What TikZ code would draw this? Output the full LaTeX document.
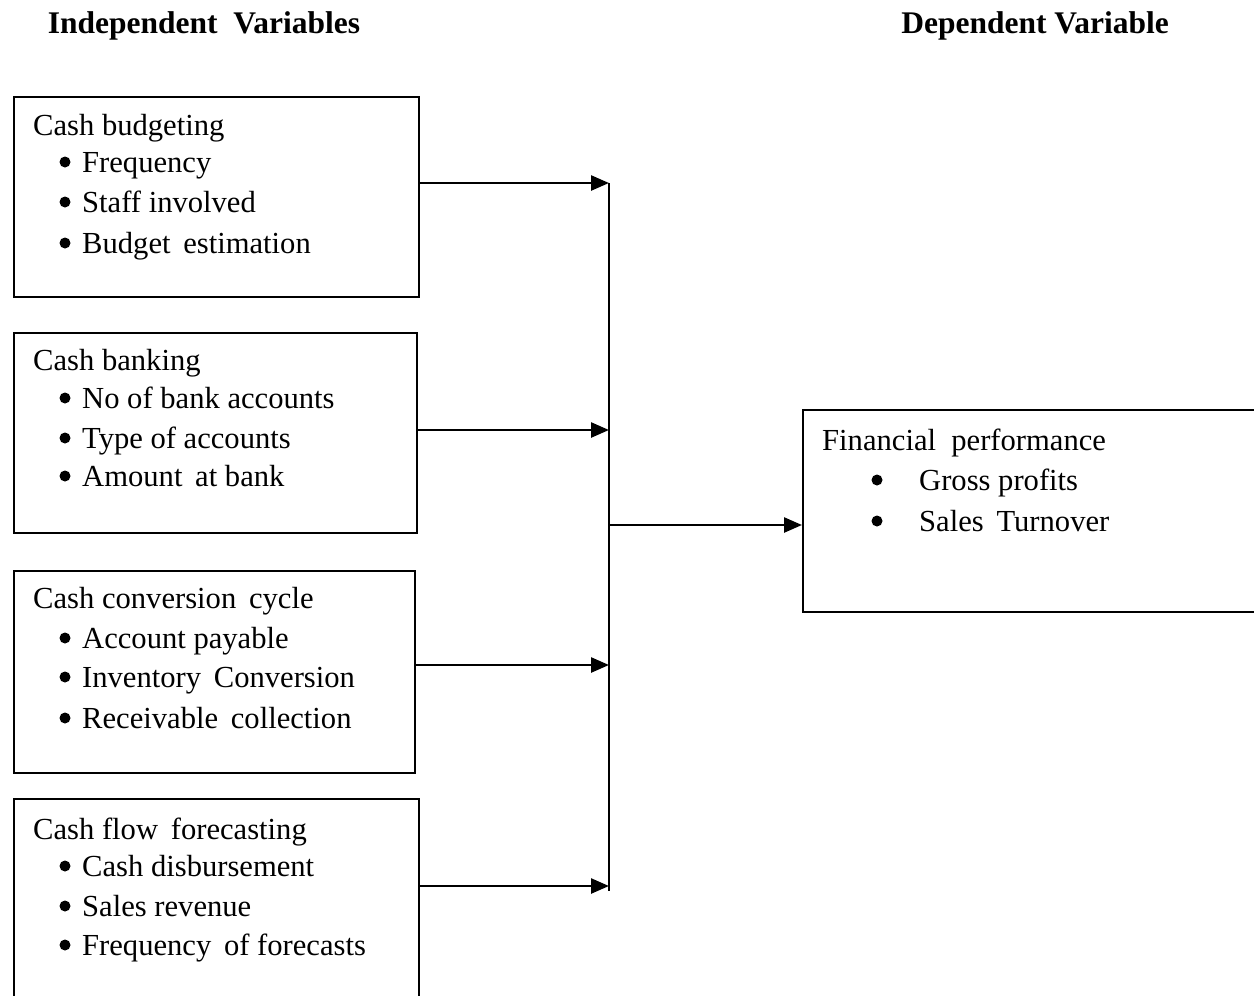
\documentclass[tikz,border=0pt]{standalone}
\usepackage{fontspec}
\setmainfont{Liberation Serif}
\usetikzlibrary{arrows.meta}
\begin{document}
\begin{tikzpicture}[x=1pt,y=-1pt,
  box/.style={draw, line width=2pt, anchor=north west, inner sep=0pt},
  txt/.style={anchor=base west, inner sep=0pt, font=\fontsize{30.6}{36}\selectfont},
  dot/.style={circle, fill, inner sep=0pt, minimum size=11pt},
  head/.style={anchor=base, inner sep=0pt, font=\fontsize{31.5}{36}\selectfont\bfseries},
  arr/.style={line width=2.5pt, -{Triangle[length=18pt,width=15pt]}},
  conn/.style={line width=2.5pt}]
\useasboundingbox (0,0) rectangle (1254,996);
\clip (0,0) rectangle (1254,996);

% headings
\node[head] (hind) at (204,33) {Independent\ \ Variables};
\node[head] (hdep) at (1035,33) {Dependent Variable};

% boxes
\node[box, minimum width=405pt, minimum height=200pt] (b1) at (13,96) {};
\node[box, minimum width=403pt, minimum height=200pt] (b2) at (13,332) {};
\node[box, minimum width=401pt, minimum height=202pt] (b3) at (13,570) {};
\node[box, minimum width=405pt, minimum height=215pt] (b4) at (13,798) {};
\node[box, minimum width=480pt, minimum height=202pt] (fp) at (802,409) {};

% box 1
\node[txt] (t1) at (33,135) {Cash budgeting};
\node[dot] (d1a) at (65,162) {}; \node[txt] (t1a) at (82,172) {Frequency};
\node[dot] (d1b) at (65,202) {}; \node[txt] (t1b) at (82,212) {Staff involved};
\node[dot] (d1c) at (65,243) {}; \node[txt] (t1c) at (82,253) {Budget\ \,estimation};

% box 2
\node[txt] (t2) at (33,370) {Cash banking};
\node[dot] (d2a) at (65,398) {}; \node[txt] (t2a) at (82,408) {No of bank accounts};
\node[dot] (d2b) at (65,438) {}; \node[txt] (t2b) at (82,448) {Type of accounts};
\node[dot] (d2c) at (65,476) {}; \node[txt] (t2c) at (82,486) {Amount\ \,at bank};

% box 3
\node[txt] (t3) at (33,608) {Cash conversion\ \,cycle};
\node[dot] (d3a) at (65,638) {}; \node[txt] (t3a) at (82,648) {Account payable};
\node[dot] (d3b) at (65,677) {}; \node[txt] (t3b) at (82,687) {Inventory\ \,Conversion};
\node[dot] (d3c) at (65,718) {}; \node[txt] (t3c) at (82,728) {Receivable\ \,collection};

% box 4
\node[txt] (t4) at (33,839) {Cash flow\ \,forecasting};
\node[dot] (d4a) at (65,866) {}; \node[txt] (t4a) at (82,876) {Cash disbursement};
\node[dot] (d4b) at (65,906) {}; \node[txt] (t4b) at (82,916) {Sales revenue};
\node[dot] (d4c) at (65,945) {}; \node[txt] (t4c) at (82,955) {Frequency\ \,of forecasts};

% right box
\node[txt] (t5) at (822,450) {Financial\ \ performance};
\node[dot] (d5a) at (877,480) {}; \node[txt] (t5a) at (919,490) {Gross profits};
\node[dot] (d5b) at (877,521) {}; \node[txt] (t5b) at (919,531) {Sales\ \,Turnover};

% connectors
\coordinate (j1) at (609,183);
\coordinate (j2) at (609,430);
\coordinate (j3) at (609,665);
\coordinate (j4) at (609,886);
\coordinate (jbot) at (609,891);
\coordinate (jm) at (609,525);
\draw[conn] (j1) -- (jbot);
\draw[arr] (b1.east |- j1) -- (j1);
\draw[arr] (b2.east |- j2) -- (j2);
\draw[arr] (b3.east |- j3) -- (j3);
\draw[arr] (b4.east |- j4) -- (j4);
\draw[arr] (jm) -- (fp.west |- jm);
\end{tikzpicture}
\end{document}
